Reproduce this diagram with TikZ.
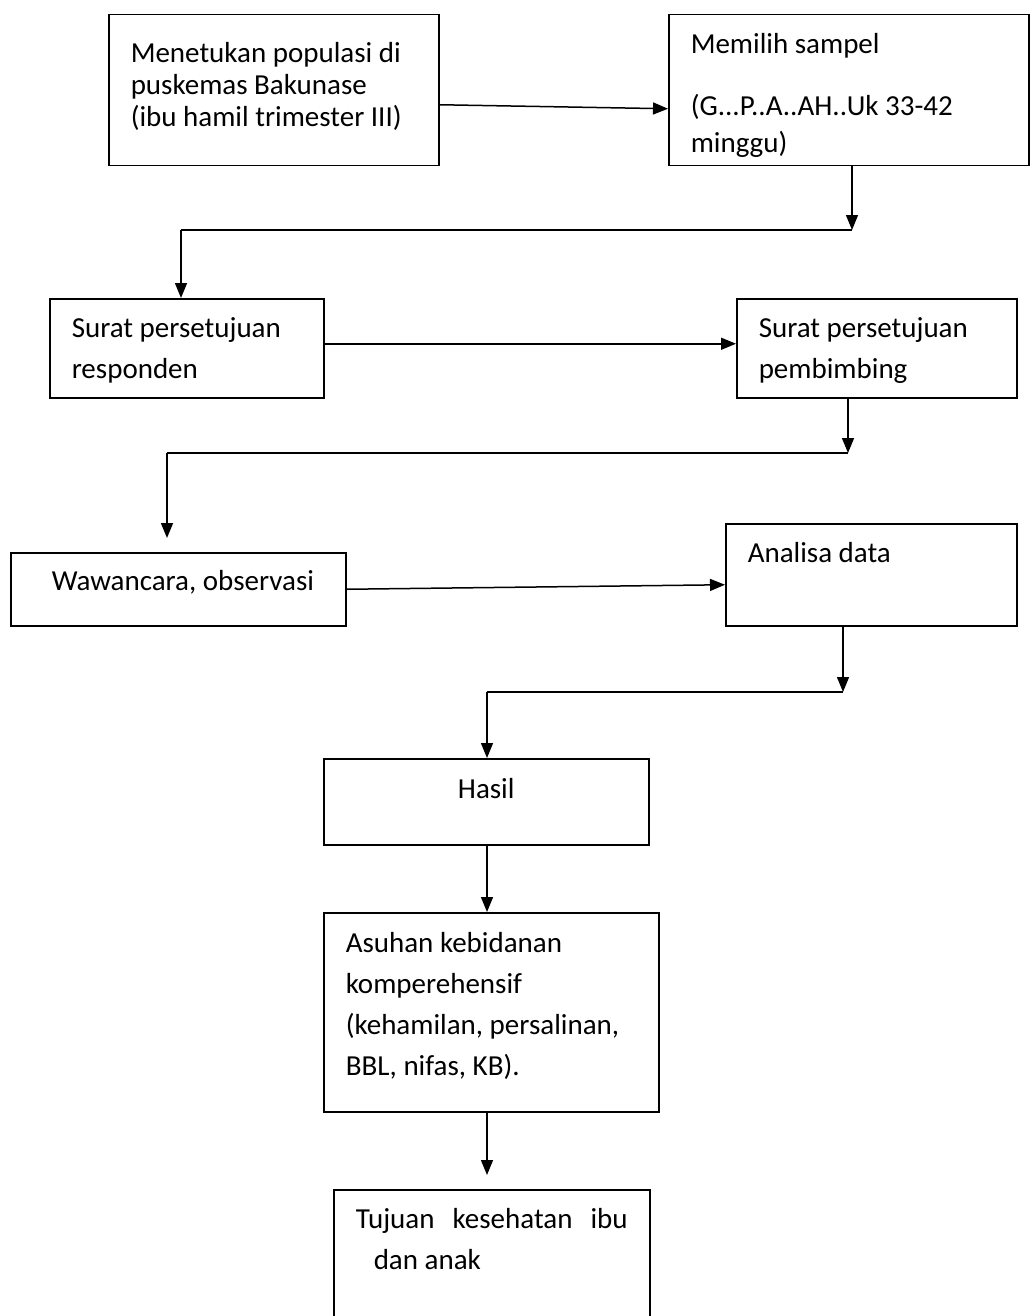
\documentclass[tikz,border=0pt]{standalone}
\usepackage{fontspec}
\setmainfont{Carlito}
\usetikzlibrary{arrows.meta,positioning}

\begin{document}
\begin{tikzpicture}[
    x=1pt, y=-1pt,
    box/.style={draw, rectangle, line width=1.5pt, anchor=north west, inner xsep=22pt, inner ysep=0pt, align=flush left, font=\fontsize{29pt}{41pt}\selectfont},
    arrow/.style={-{Triangle[length=15pt, width=12pt]}, line width=1.5pt},
    link/.style={line width=1.5pt}
]
\clip (0,0) rectangle (1030,1316);

% Nodes
\node[box, text width=286pt, text height=48pt, text depth=103pt, font=\fontsize{29pt}{32pt}\selectfont] (pop) at (108,14) {Menetukan populasi di\\puskemas Bakunase\\(ibu hamil trimester III)};
\node[box, text width=316pt, text height=39pt, text depth=112pt, font=\fontsize{29pt}{37pt}\selectfont] (sampel) at (668,14) {Memilih sampel\\[25pt](G...P..A..AH..Uk 33-42\\minggu)};
\node[box, text width=230pt, text height=39pt, text depth=60pt] (resp) at (49,298) {Surat persetujuan\\responden};
\node[box, text width=236pt, text height=39pt, text depth=60pt] (bimb) at (736,298) {Surat persetujuan\\pembimbing};
\node[box, inner xsep=41pt, text width=253pt, text height=38pt, text depth=35pt] (waw) at (10,552) {\mbox{Wawancara, observasi}};
\node[box, text width=247pt, text height=39pt, text depth=63pt] (anal) at (725,523) {Analisa data};
\node[box, align=center, text width=281pt, text height=40pt, text depth=46pt] (hasil) at (323,758) {Hasil};
\node[box, text width=291pt, text height=40pt, text depth=159pt] (asuh) at (323,912) {Asuhan kebidanan\\komperehensif\\(kehamilan, persalinan,\\BBL, nifas, KB).};
\node[box, text width=272pt, text height=39pt, text depth=121pt] (tuj) at (333,1189) {\makebox[272pt][s]{Tujuan\hfill kesehatan\hfill ibu}\\\hspace*{18pt}dan anak};

% Junctions
\coordinate (j1r) at (852,230);
\coordinate (j1l) at (181,230);
\coordinate (j2r) at (848,453);
\coordinate (j2l) at (167,453);
\coordinate (j3r) at (843,692);
\coordinate (j3l) at (487,692);

% Arrows
\draw[arrow] ([yshift=-14.5pt]pop.east) -- ([yshift=-18.5pt]sampel.west);
\draw[arrow] (sampel.south -| j1r) -- (j1r);
\draw[link] (j1r) -- (j1l);
\draw[arrow] (j1l) -- (resp.north -| j1l);
\draw[arrow] ([yshift=4.5pt]resp.east) -- ([yshift=4.5pt]bimb.west);
\draw[arrow] (bimb.south -| j2r) -- (j2r);
\draw[link] (j2r) -- (j2l);
\draw[arrow, shorten >=14pt] (j2l) -- (waw.north -| j2l);
\draw[arrow] (waw.east) -- ([yshift=-10pt]anal.west);
\draw[arrow] (anal.south -| j3r) -- (j3r);
\draw[link] (j3r) -- (j3l);
\draw[arrow] (j3l) -- (hasil.north -| j3l);
\draw[arrow] (hasil.south -| j3l) -- (asuh.north -| j3l);
\draw[arrow, shorten >=14pt] (asuh.south -| j3l) -- (tuj.north -| j3l);

\end{tikzpicture}
\end{document}
